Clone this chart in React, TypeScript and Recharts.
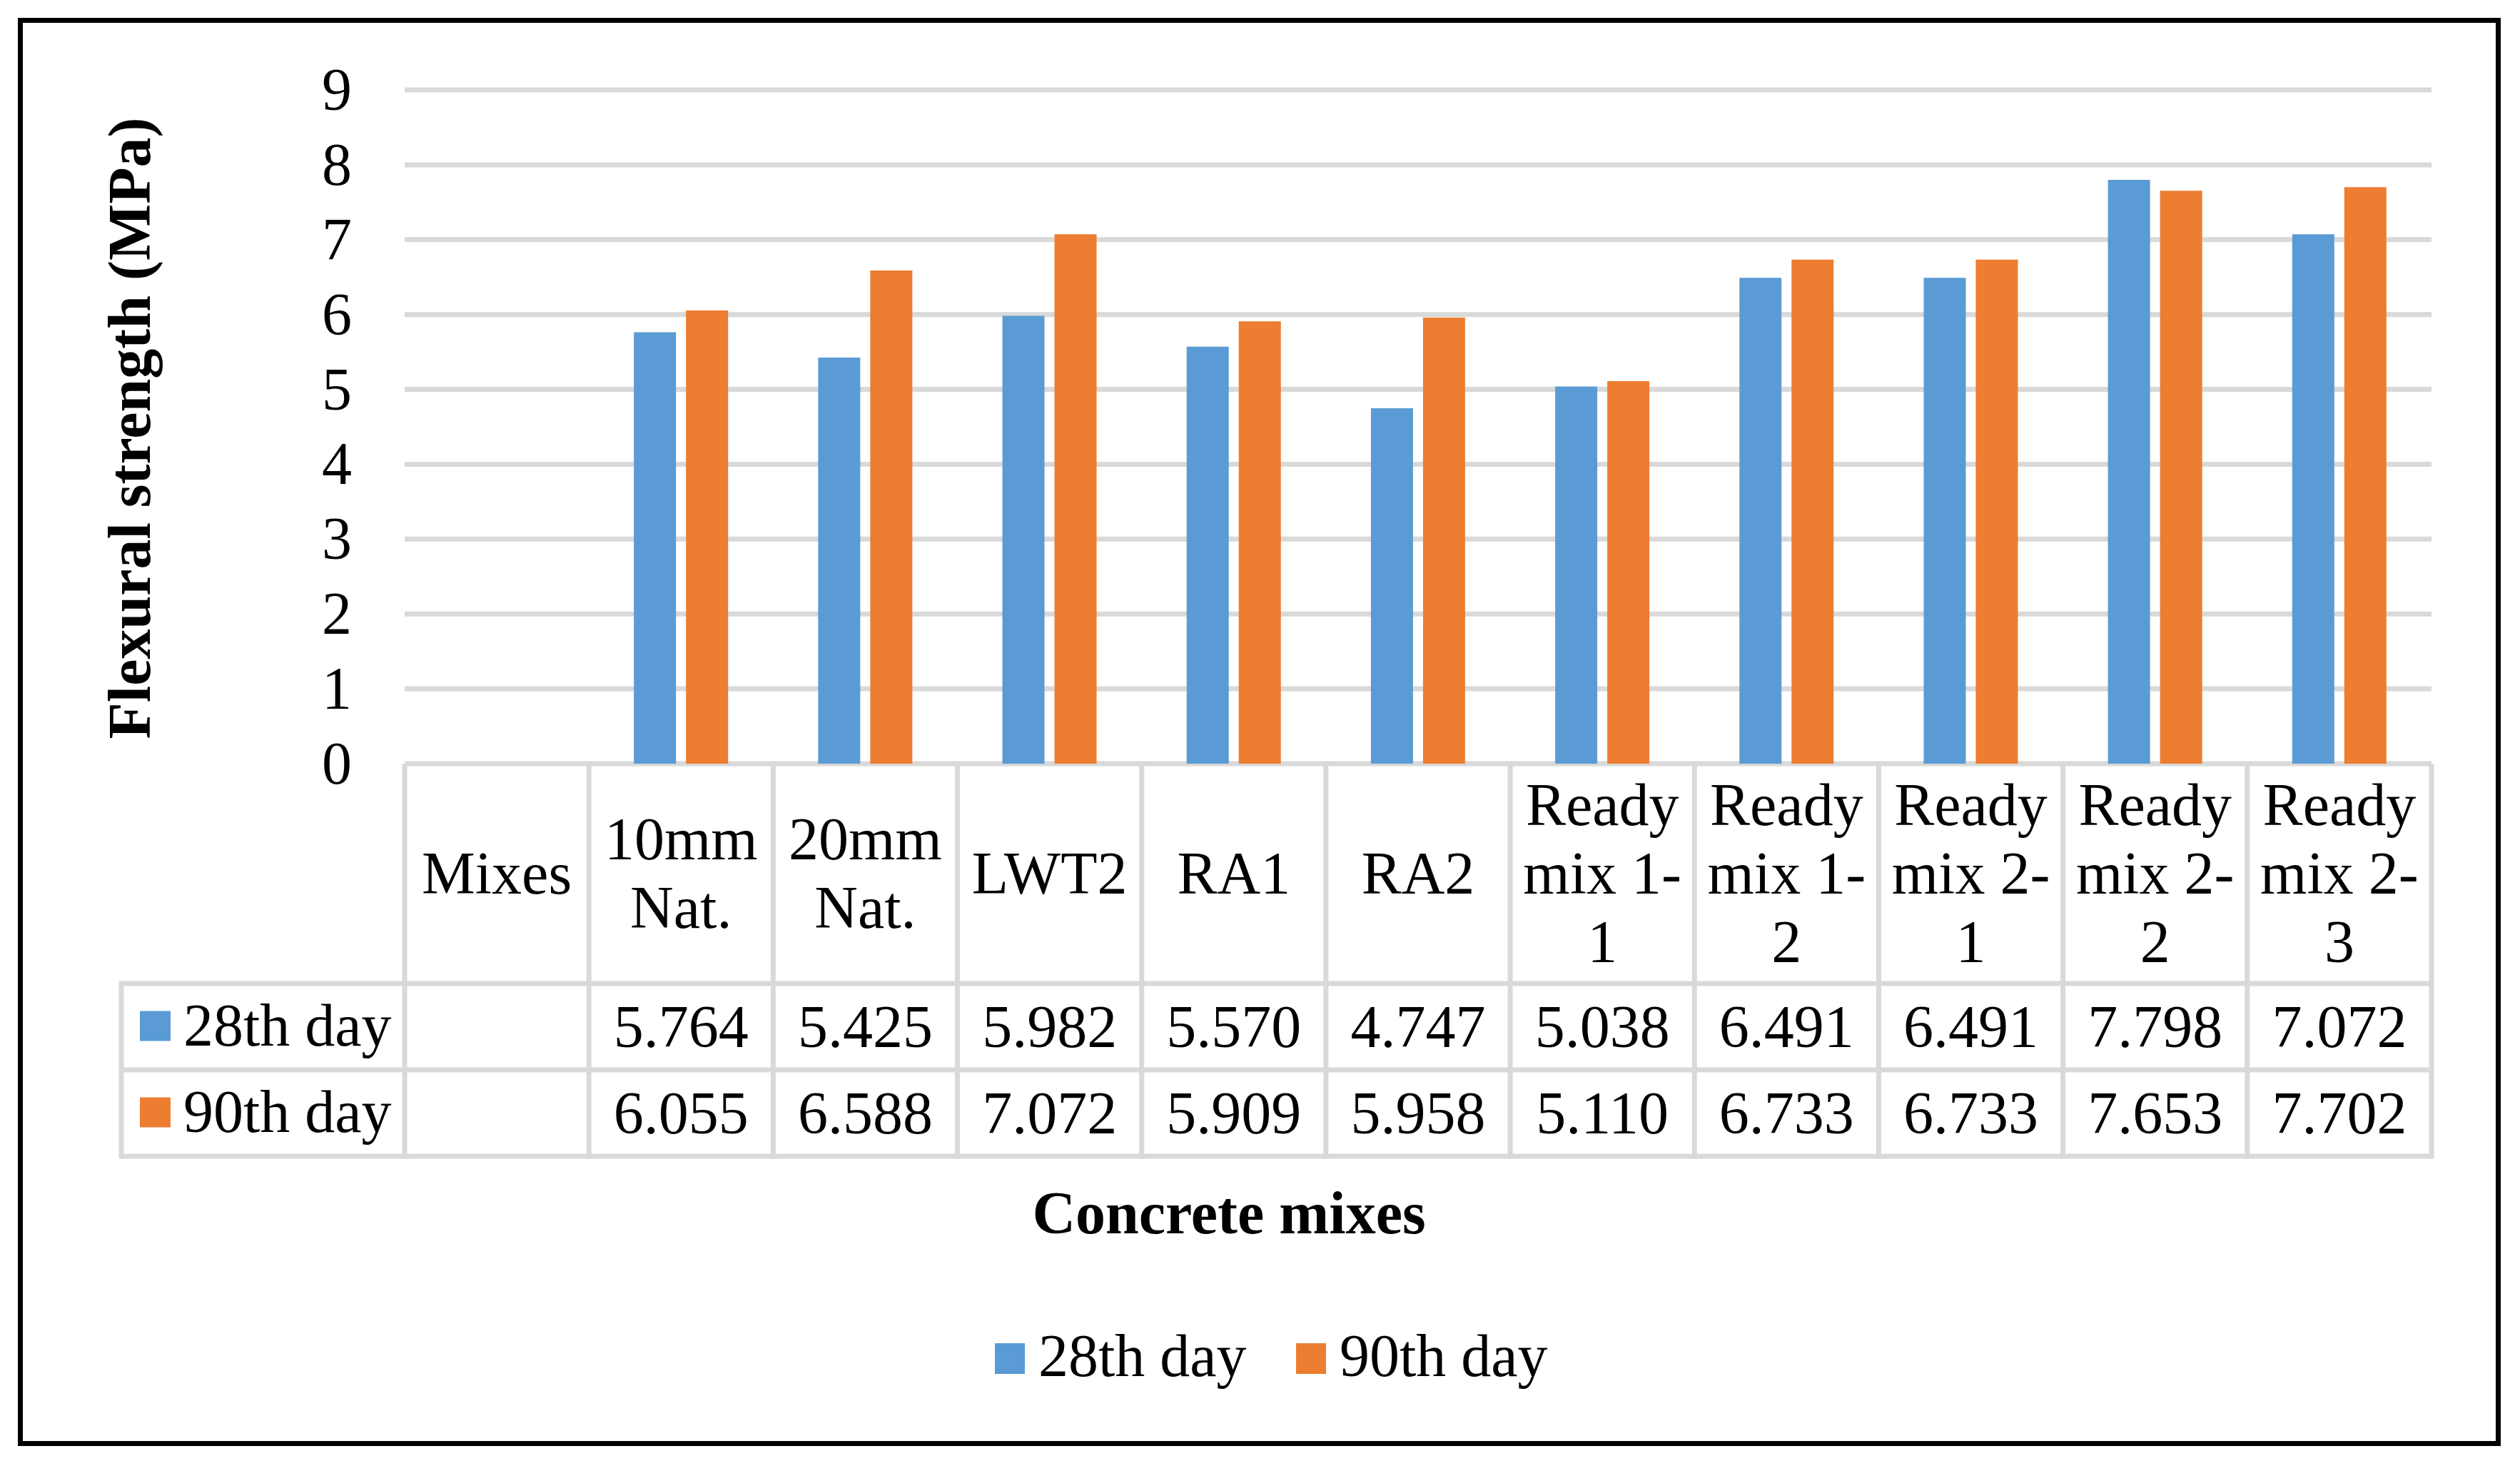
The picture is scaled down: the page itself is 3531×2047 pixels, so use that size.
import React from 'react'
import { BarChart, Bar, XAxis, YAxis, CartesianGrid } from 'recharts'

// categories as shown in the data table (first column is the table's "Mixes" header)
const categories = [
  'Mixes',
  '10mm\nNat.',
  '20mm\nNat.',
  'LWT2',
  'RA1',
  'RA2',
  'Ready\nmix 1-\n1',
  'Ready\nmix 1-\n2',
  'Ready\nmix 2-\n1',
  'Ready\nmix 2-\n2',
  'Ready\nmix 2-\n3',
]

const day28 = [null, 5.764, 5.425, 5.982, 5.57, 4.747, 5.038, 6.491, 6.491, 7.798, 7.072]
const day90 = [null, 6.055, 6.588, 7.072, 5.909, 5.958, 5.11, 6.733, 6.733, 7.653, 7.702]

const yTicks = [0, 1, 2, 3, 4, 5, 6, 7, 8, 9]

const SERIES = [
  { key: 'day28', name: '28th day', color: '#5b9bd5', values: day28 },
  { key: 'day90', name: '90th day', color: '#ed7d31', values: day90 },
]

const FONT = '"Liberation Serif", "Times New Roman", serif'
const FS = 84
const GRID = '#d9d9d9'
const LINE_W = 7

const W = 3531
const H = 2047
const Y_AXIS_W = 100
const MARGIN = { top: 126, right: 124, bottom: 277, left: 467 }
const X_AXIS_H = 700
const PLOT_W = W - MARGIN.left - MARGIN.right - Y_AXIS_W
const BAND = PLOT_W / categories.length

const HEADER_H = 308
const ROW_H = 121
const LEGEND_COL_W = 397
const LINE_H = 96

const data = categories.map((name, i) => ({
  name,
  day28: day28[i],
  day90: day90[i],
}))

const YTick = ({ x, y, payload }: any) => (
  <text x={x} y={y + 28} textAnchor="end" fontFamily={FONT} fontSize={FS} fill="#000">
    {payload.value}
  </text>
)

// each x tick draws its column of the data table below the plot
const TableTick = ({ x, y, payload, index }: any) => {
  const left = x - BAND / 2
  const right = x + BAND / 2
  const lines = String(payload.value).split('\n')
  const headerMid = y + HEADER_H / 2
  const rowMid = (r: number) => y + HEADER_H + ROW_H * r + ROW_H / 2
  const bottom = y + HEADER_H + ROW_H * SERIES.length
  const rowLines = [0, 1, 2].map((r) => y + HEADER_H + ROW_H * r)

  return (
    <g>
      <line x1={left} x2={left} y1={y} y2={bottom + LINE_W / 2} stroke={GRID} strokeWidth={LINE_W} />
      {index === categories.length - 1 && (
        <line x1={right} x2={right} y1={y} y2={bottom + LINE_W / 2} stroke={GRID} strokeWidth={LINE_W} />
      )}
      {rowLines.map((ry, i) => (
        <line key={i} x1={left} x2={right} y1={ry} y2={ry} stroke={GRID} strokeWidth={LINE_W} />
      ))}
      {lines.map((ln, i) => (
        <text
          key={i}
          x={x}
          y={headerMid - ((lines.length - 1) * LINE_H) / 2 + i * LINE_H + 28}
          textAnchor="middle"
          fontFamily={FONT}
          fontSize={FS}
          fill="#000"
        >
          {ln}
        </text>
      ))}
      {SERIES.map((s, r) => {
        const v = s.values[index]
        return v == null ? null : (
          <text key={s.key} x={x} y={rowMid(r) + 28} textAnchor="middle" fontFamily={FONT} fontSize={FS} fill="#000">
            {v.toFixed(3)}
          </text>
        )
      })}
      {index === 0 && (
        <g>
          <line
            x1={left - LEGEND_COL_W}
            x2={left - LEGEND_COL_W}
            y1={rowLines[0] - LINE_W / 2}
            y2={bottom + LINE_W / 2}
            stroke={GRID}
            strokeWidth={LINE_W}
          />
          {rowLines.map((ry, i) => (
            <line key={i} x1={left - LEGEND_COL_W} x2={left} y1={ry} y2={ry} stroke={GRID} strokeWidth={LINE_W} />
          ))}
          {SERIES.map((s, r) => (
            <g key={s.key}>
              <rect x={left - LEGEND_COL_W + 26} y={rowMid(r) - 22} width={43} height={42} fill={s.color} />
              <text
                x={left - LEGEND_COL_W + 87}
                y={rowMid(r) + 26}
                fontFamily={FONT}
                fontSize={FS}
                fill="#000"
              >
                {s.name}
              </text>
            </g>
          ))}
        </g>
      )}
    </g>
  )
}

export default function App() {
  return (
    <div style={{ position: 'absolute', left: 0, top: 0, width: W, height: H, background: '#fff' }}>
      <BarChart width={W} height={H} data={data} margin={MARGIN} barGap={14}>
        <CartesianGrid vertical={false} stroke={GRID} strokeWidth={LINE_W} />
        <YAxis
          width={Y_AXIS_W}
          domain={[0, 9]}
          ticks={yTicks}
          axisLine={false}
          tickLine={false}
          tickSize={0}
          tickMargin={74}
          tick={(p: any) => <YTick {...p} />}
        />
        <XAxis
          dataKey="name"
          height={X_AXIS_H}
          interval={0}
          axisLine={false}
          tickLine={false}
          tickSize={0}
          tickMargin={0}
          tick={(p: any) => <TableTick {...p} />}
        />
        {SERIES.map((s) => (
          <Bar key={s.key} dataKey={s.key} name={s.name} fill={s.color} barSize={59} isAnimationActive={false} />
        ))}
      </BarChart>

      <svg width={W} height={H} style={{ position: 'absolute', left: 0, top: 0, pointerEvents: 'none' }}>
        <text
          transform="translate(210,600) rotate(-90)"
          textAnchor="middle"
          fontFamily={FONT}
          fontWeight="bold"
          fontSize={FS}
          fill="#000"
        >
          Flexural strength (MPa)
        </text>
        <text x={1722} y={1728} textAnchor="middle" fontFamily={FONT} fontWeight="bold" fontSize={FS} fill="#000">
          Concrete mixes
        </text>
        {SERIES.map((s, i) => (
          <g key={s.key} transform={`translate(${1394 + i * 422},0)`}>
            <rect x={0} y={1882} width={42} height={43} fill={s.color} />
            <text x={61} y={1928} fontFamily={FONT} fontSize={FS} fill="#000">
              {s.name}
            </text>
          </g>
        ))}
      </svg>

      <div
        style={{
          position: 'absolute',
          left: 25,
          top: 25,
          width: 3479,
          height: 2001,
          border: '7px solid #000',
          boxSizing: 'border-box',
          pointerEvents: 'none',
        }}
      />
    </div>
  )
}
